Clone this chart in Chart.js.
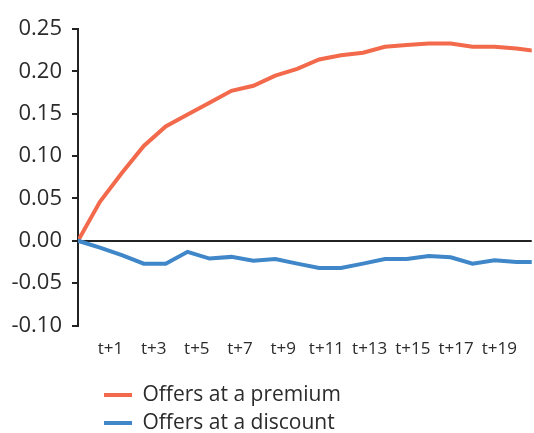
<!DOCTYPE html>
<html>
<head>
<meta charset="utf-8">
<script src="https://cdn.jsdelivr.net/npm/chart.js@4"></script>
<style>
  html, body { margin: 0; padding: 0; background: #ffffff; }
  #wrap { width: 534px; height: 433px; position: relative; }
</style>
</head>
<body>
<div id="wrap"><canvas id="c"></canvas></div>
<script>
// ---- data ----
const categories = ['t', 't+1', 't+2', 't+3', 't+4', 't+5', 't+6', 't+7', 't+8', 't+9', 't+10',
  't+11', 't+12', 't+13', 't+14', 't+15', 't+16', 't+17', 't+18', 't+19', 't+20'];
const premium = [0, 0.046, 0.080, 0.112, 0.135, 0.149, 0.163, 0.177, 0.183, 0.195, 0.203,
  0.214, 0.219, 0.222, 0.229, 0.231, 0.233, 0.233, 0.229, 0.229, 0.227, 0.2235];
const discount = [0, -0.008, -0.017, -0.027, -0.027, -0.013, -0.021, -0.019, -0.0235, -0.0215, -0.027,
  -0.032, -0.032, -0.027, -0.0215, -0.0215, -0.018, -0.0195, -0.027, -0.023, -0.025, -0.025];
const yTicks = [-0.10, -0.05, 0.00, 0.05, 0.10, 0.15, 0.20, 0.25];
const seriesNames = ['Offers at a premium', 'Offers at a discount'];

const toPoints = arr => arr.map((v, i) => ({ x: i, y: v }));
const textColor = '#2b2b2b';
const axisColor = '#222222';

new Chart(document.getElementById('c'), {
  type: 'line',
  data: {
    datasets: [
      {
        label: seriesNames[0],
        data: toPoints(premium),
        borderColor: '#F26A4B',
        backgroundColor: '#F26A4B',
        borderWidth: 4,
        borderCapStyle: 'round',
        pointRadius: 0,
        tension: 0,
        xAxisID: 'x',
        order: 1
      },
      {
        label: seriesNames[1],
        data: toPoints(discount),
        borderColor: '#3F87C9',
        backgroundColor: '#3F87C9',
        borderWidth: 4,
        borderCapStyle: 'round',
        pointRadius: 0,
        tension: 0,
        xAxisID: 'x',
        order: 0
      }
    ]
  },
  options: {
    responsive: true,
    maintainAspectRatio: false,
    animation: false,
    layout: { padding: { top: 29, left: 0, right: 0, bottom: -10.5 } },
    scales: {
      x: {
        type: 'linear',
        display: false,
        min: 0,
        max: 20.7
      },
      xl: {
        type: 'category',
        labels: categories,
        position: 'bottom',
        offset: true,
        grid: { display: false, drawTicks: false },
        border: { display: false },
        afterFit: s => { s.height = 52; },
        ticks: {
          autoSkip: false,
          maxRotation: 0,
          padding: 13,
          color: textColor,
          font: { family: '"Open Sans", sans-serif', size: 17 },
          callback: function (value, index) {
            return index % 2 === 1 ? this.getLabelForValue(value) : '';
          }
        }
      },
      y: {
        min: yTicks[0],
        max: yTicks[yTicks.length - 1],
        afterFit: s => { s.width = 78; },
        afterBuildTicks: s => { s.ticks = yTicks.map(v => ({ value: v })); },
        border: { display: true, color: axisColor, width: 2 },
        grid: {
          drawOnChartArea: true,
          drawTicks: true,
          tickLength: 6,
          lineWidth: 2,
          tickColor: axisColor,
          color: ctx => (Math.abs(ctx.tick.value) < 1e-9 ? axisColor : 'rgba(0,0,0,0)')
        },
        ticks: {
          padding: 10,
          color: textColor,
          font: { family: '"Open Sans", sans-serif', size: 22 },
          callback: v => v.toFixed(2)
        }
      }
    },
    plugins: {
      tooltip: { enabled: false },
      legend: {
        position: 'bottom',
        align: 'start',
        fullSize: false,
        labels: {
          usePointStyle: true,
          pointStyle: 'line',
          pointStyleWidth: 28,
          boxHeight: 21,
          padding: 7,
          color: textColor,
          font: { family: '"Open Sans", sans-serif', size: 21 },
          sort: (a, b) => a.datasetIndex - b.datasetIndex
        }
      }
    }
  },
  plugins: [{
    id: 'legendIndent',
    afterLayout(chart) {
      const lg = chart.legend;
      if (lg) { lg.left += 19; lg.right += 19; }
    }
  }]
});
</script>
</body>
</html>
